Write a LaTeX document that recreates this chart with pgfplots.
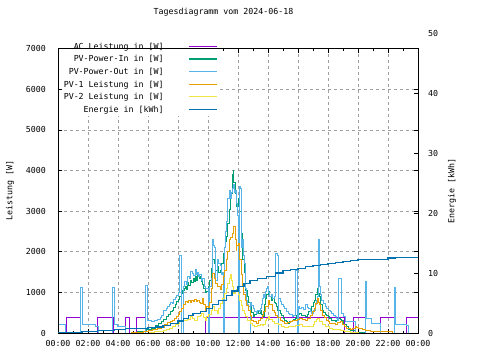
\documentclass[border=0pt]{standalone}
\usepackage{fontspec}
\setmainfont{DejaVu Sans Mono}
\usepackage{pgfplots}
\pgfplotsset{compat=1.18}
\definecolor{cAC}{HTML}{9400D3}
\definecolor{cIn}{HTML}{009E73}
\definecolor{cOut}{HTML}{56B4E9}
\definecolor{cPA}{HTML}{E69F00}
\definecolor{cPB}{HTML}{F0E442}
\definecolor{cE}{HTML}{0072B2}
\definecolor{cGrid}{HTML}{A0A0A0}
\begin{document}
\begin{tikzpicture}[font=\fontsize{8.3bp}{10bp}\selectfont]
\useasboundingbox (0,0) rectangle (480bp,360bp);
\begin{axis}[
  at={(58bp,27bp)}, anchor=south west,
  scale only axis, width=360bp, height=284.3bp,
  xmin=0, xmax=24, ymin=0, ymax=7000,
  xtick={0,2,...,24},
  xticklabels={00:00,02:00,04:00,06:00,08:00,10:00,12:00,14:00,16:00,18:00,20:00,22:00,00:00},
  minor xtick={1,3,...,23},
  ytick={0,1000,2000,3000,4000,5000,6000,7000},
  yticklabels={0,1000,2000,3000,4000,5000,6000,7000},
  tick align=inside, major tick length=4bp, minor tick length=2bp,
  tick style={black, line width=0.8bp},
  axis line style={line width=0.9bp},
  grid=major,
  major grid style={cGrid, line width=0.8bp, dash pattern=on 3bp off 3bp},
  xticklabel style={inner sep=0pt, anchor=north, yshift=-7.5bp},
  yticklabel style={inner sep=0pt, anchor=east, xshift=-12bp},
  ylabel={Leistung [W]},
  ylabel style={at={(axis description cs:-0.1333,0.5)}, anchor=center, rotate=0},
  title={Tagesdiagramm vom 2024-06-18},
  title style={at={(axis description cs:0.4597,1.108)}, anchor=center, inner sep=0pt},
  every axis plot/.append style={line width=1bp, no marks, const plot},
  legend style={at={(axis description cs:0.45,1.0276)}, anchor=north east,
    draw=none, fill=white, inner sep=2bp, row sep=4.6bp, column sep=25bp,
    nodes={inner sep=0pt, text height=6.2bp, text depth=1.8bp}},
  legend cell align=right, legend plot pos=right,
  legend image code/.code={\draw[#1, line width=1.1bp] (0bp,0.7bp) -- (28bp,0.7bp);},
]
\addplot[cAC] coordinates {(0,0)(0.58,375)(1.47,0)(2.64,375)(3.69,0)(4.53,375)(4.75,0)(5.24,375)(5.8,0)(9.8,375)(19.13,0)(19.73,375)(20.47,0)(21.47,375)(22.4,0)(23.25,375)(24,375)};
\addlegendentry{AC Leistung in [W]}
\addplot[cIn] coordinates {(0,0)(5.0,10)(5.3,25)(5.6,45)(5.9,80)(6.2,120)(6.5,180)(6.7,230)(6.9,280)(7.05,330)(7.2,400)(7.35,450)(7.47,525)(7.6,560)(7.7,640)(7.8,700)(7.9,770)(8.0,820)(8.1,900)(8.2,980)(8.3,1050)(8.4,1100)(8.47,1140)(8.55,1080)(8.62,1250)(8.7,1180)(8.8,1300)(8.9,1250)(9.0,1345)(9.08,1280)(9.15,1400)(9.22,1300)(9.3,1420)(9.4,1350)(9.47,1385)(9.55,1260)(9.65,1200)(9.72,1100)(9.8,985)(9.91,1015)(10.0,1150)(10.13,1300)(10.22,1600)(10.33,1800)(10.42,1700)(10.5,1550)(10.6,1630)(10.7,1500)(10.8,1550)(10.9,1700)(11.0,1960)(11.1,2100)(11.18,2250)(11.25,2370)(11.32,2700)(11.4,3030)(11.47,3300)(11.53,3440)(11.6,3700)(11.65,3900)(11.69,4010)(11.73,3700)(11.8,3440)(11.87,3300)(11.93,3110)(12.0,3300)(12.07,3440)(12.13,3000)(12.2,2460)(12.27,2100)(12.33,1800)(12.4,1500)(12.47,1300)(12.53,1050)(12.6,890)(12.7,760)(12.8,650)(12.9,500)(13.0,400)(13.1,450)(13.2,520)(13.27,565)(13.35,480)(13.47,565)(13.57,450)(13.67,400)(13.75,700)(13.8,855)(13.9,950)(14.0,1015)(14.1,900)(14.2,810)(14.3,850)(14.4,760)(14.47,730)(14.55,650)(14.65,560)(14.8,485)(14.9,420)(15.0,360)(15.13,320)(15.23,280)(15.33,240)(15.45,280)(15.6,320)(15.7,340)(15.8,360)(15.9,420)(16.0,460)(16.13,485)(16.25,440)(16.35,420)(16.47,400)(16.6,450)(16.7,520)(16.8,565)(16.9,650)(17.0,750)(17.07,810)(17.15,950)(17.27,1100)(17.35,980)(17.4,890)(17.5,700)(17.6,565)(17.7,500)(17.8,460)(17.87,440)(18.0,400)(18.13,360)(18.25,320)(18.35,300)(18.47,280)(18.57,320)(18.67,360)(18.8,340)(18.93,320)(19.05,220)(19.2,150)(19.35,90)(19.5,50)(19.8,20)(20.2,10)(20.5,0)(24,0)};
\addlegendentry{PV-Power-In in [W]}
\addplot[cOut] coordinates {(0,220)(0.53,0)(1.47,1125)(1.65,220)(2.5,170)(2.7,0)(3.6,1125)(3.77,220)(3.95,170)(4.5,0)(5.8,1180)(5.98,300)(6.2,290)(6.4,310)(6.6,330)(6.8,380)(6.9,420)(7.05,560)(7.2,600)(7.3,650)(7.4,700)(7.5,760)(7.6,730)(7.7,820)(7.8,870)(7.9,930)(8.0,1000)(8.07,1920)(8.25,0)(8.35,1150)(8.45,1260)(8.55,1200)(8.65,1380)(8.75,1330)(8.85,1520)(8.95,1460)(9.05,1420)(9.15,1560)(9.22,1450)(9.3,1500)(9.38,1380)(9.45,1450)(9.55,1300)(9.65,1350)(9.75,1150)(9.85,1100)(10.0,0)(10.08,1150)(10.2,1350)(10.29,2290)(10.38,2150)(10.45,2100)(10.53,1300)(10.6,1500)(10.65,1800)(10.72,1700)(10.8,1650)(10.88,1450)(10.95,1500)(11.02,0)(11.08,2100)(11.15,2500)(11.2,2740)(11.27,3000)(11.33,3300)(11.4,3500)(11.47,3300)(11.55,3450)(11.62,3550)(11.69,3650)(11.77,3450)(11.85,3500)(11.92,3200)(11.97,2900)(12.02,0)(12.09,3600)(12.18,3550)(12.25,2100)(12.3,2300)(12.36,1900)(12.42,1700)(12.47,1500)(12.53,1100)(12.58,800)(12.65,700)(12.72,650)(12.8,0)(12.85,750)(12.92,680)(13.0,600)(13.1,520)(13.2,480)(13.3,550)(13.4,520)(13.47,600)(13.55,700)(13.62,850)(13.69,950)(13.75,880)(13.8,1016)(13.88,1100)(13.95,1140)(14.05,1000)(14.13,890)(14.2,950)(14.3,850)(14.4,900)(14.47,1960)(14.6,1900)(14.69,0)(14.72,855)(14.8,780)(14.9,690)(15.0,650)(15.13,610)(15.25,520)(15.35,485)(15.45,450)(15.6,400)(15.7,420)(15.84,1550)(15.95,0)(16.02,650)(16.1,600)(16.25,620)(16.35,580)(16.5,690)(16.6,640)(16.7,610)(16.8,520)(16.9,485)(17.0,560)(17.15,690)(17.25,800)(17.3,890)(17.36,2310)(17.43,1140)(17.5,950)(17.58,810)(17.7,720)(17.8,650)(17.9,600)(18.02,565)(18.15,520)(18.25,485)(18.35,440)(18.47,400)(18.55,360)(18.65,320)(18.73,1345)(18.87,485)(19.0,395)(19.15,280)(19.8,0)(20.47,1260)(20.58,360)(20.91,240)(21.47,0)(22.4,1125)(22.53,220)(23.24,180)(23.36,0)(24,0)};
\addlegendentry{PV-Power-Out in [W]}
\addplot[cPA] coordinates {(0,0)(4.9,10)(5.3,20)(5.7,35)(6.0,60)(6.3,85)(6.6,110)(6.9,140)(7.1,200)(7.3,250)(7.47,280)(7.6,320)(7.75,360)(7.9,400)(8.0,450)(8.13,525)(8.25,600)(8.35,700)(8.47,770)(8.6,740)(8.7,800)(8.8,760)(8.9,790)(9.0,770)(9.1,820)(9.2,780)(9.27,810)(9.4,760)(9.53,730)(9.62,860)(9.7,700)(9.8,560)(9.91,650)(10.0,600)(10.13,740)(10.22,1100)(10.33,1475)(10.43,1350)(10.53,1230)(10.65,1150)(10.8,1060)(10.9,1200)(11.0,1385)(11.1,1550)(11.2,1800)(11.3,2000)(11.4,2290)(11.5,2350)(11.6,2460)(11.67,2550)(11.73,2620)(11.8,2300)(11.87,2040)(11.93,2150)(12.0,2210)(12.07,2000)(12.13,1800)(12.2,1450)(12.27,1140)(12.37,950)(12.47,810)(12.57,680)(12.67,565)(12.8,430)(12.93,320)(13.05,280)(13.2,240)(13.35,300)(13.47,350)(13.6,420)(13.73,520)(13.85,650)(14.0,810)(14.1,700)(14.27,565)(14.4,500)(14.53,440)(14.65,380)(14.8,320)(14.95,280)(15.13,240)(15.3,260)(15.47,280)(15.6,300)(15.8,320)(15.95,340)(16.13,360)(16.3,330)(16.47,320)(16.6,360)(16.8,440)(16.95,520)(17.07,610)(17.17,720)(17.27,855)(17.35,760)(17.4,690)(17.5,550)(17.6,440)(17.75,380)(17.87,320)(18.0,280)(18.13,240)(18.3,230)(18.47,220)(18.6,250)(18.8,280)(18.95,200)(19.1,150)(19.24,115)(19.47,75)(19.65,120)(19.8,170)(19.9,140)(20.0,115)(20.27,75)(20.5,50)(20.8,30)(21.47,25)(22.33,0)(24,0)};
\addlegendentry{PV-1 Leistung in [W]}
\addplot[cPB] coordinates {(0,0)(6.1,10)(6.4,25)(6.7,45)(7.0,60)(7.2,75)(7.4,110)(7.6,150)(7.8,200)(8.0,240)(8.13,280)(8.3,300)(8.47,320)(8.6,360)(8.7,330)(8.8,400)(8.95,350)(9.13,320)(9.3,400)(9.47,440)(9.58,490)(9.7,380)(9.8,320)(9.91,400)(10.05,450)(10.2,550)(10.33,650)(10.45,560)(10.6,485)(10.7,600)(10.8,730)(10.95,850)(11.07,975)(11.2,1100)(11.33,1220)(11.4,1350)(11.47,1430)(11.55,1300)(11.6,1140)(11.67,1050)(11.73,975)(11.85,1020)(11.93,1060)(12.03,950)(12.13,810)(12.23,680)(12.33,565)(12.43,480)(12.53,400)(12.65,320)(12.8,240)(12.95,190)(13.13,155)(13.3,180)(13.47,200)(13.6,180)(13.73,220)(13.8,320)(13.9,360)(14.0,400)(14.13,340)(14.27,280)(14.45,240)(14.67,200)(14.9,160)(15.13,140)(15.35,155)(15.6,170)(15.85,190)(16.13,200)(16.3,170)(16.47,155)(16.65,165)(16.8,170)(17.0,220)(17.13,280)(17.25,330)(17.33,360)(17.45,280)(17.6,200)(17.85,150)(18.13,115)(18.3,95)(18.47,75)(18.8,50)(19.13,30)(19.5,15)(20.0,0)(24,0)};
\addlegendentry{PV-2 Leistung in [W]}
\addlegendimage{cE}
\addlegendentry{Energie in [kWh]}
\end{axis}
\begin{axis}[
  at={(58bp,27bp)}, anchor=south west,
  scale only axis, width=360bp, height=284.3bp,
  xmin=0, xmax=24, ymin=0, ymax=47.4,
  xtick=\empty, ytick pos=right,
  ytick={0,10,20,30,40}, yticklabels={0,10,20,30,40},
  tick align=inside, major tick length=4bp,
  tick style={black, line width=0.8bp},
  axis line style={line width=0.9bp},
  yticklabel style={inner sep=0pt, anchor=west, xshift=10bp},
  ylabel={Energie [kWh]},
  ylabel style={at={(axis description cs:1.0944,0.5)}, anchor=center, rotate=0},
  clip mode=individual,
]
\addplot[cE, line width=1.2bp, no marks, const plot] coordinates {(0,0.15)(1.6,0.25)(2.65,0.45)(3.75,0.6)(4.5,0.7)(5.5,0.8)(6,0.9)(6.5,1.0)(7,1.2)(7.5,1.55)(8,2.0)(8.35,2.45)(8.7,2.9)(9.0,3.2)(9.5,3.6)(9.9,4.1)(10.3,4.8)(10.7,5.4)(11.24,6.3)(11.6,7.0)(12.0,7.7)(12.4,8.3)(12.8,8.8)(13.3,9.1)(13.9,9.4)(14.5,10.0)(15.0,10.4)(15.5,10.6)(16.0,10.8)(16.5,11.1)(17.0,11.3)(17.5,11.4)(18.0,11.6)(18.5,11.75)(19.0,11.9)(19.5,12.1)(20.0,12.2)(21.0,12.3)(22.0,12.5)(22.5,12.6)(24,12.6)};
\node[anchor=west, inner sep=0pt, xshift=10bp] at (axis cs:24,50) {50};
\end{axis}
\end{tikzpicture}
\end{document}
